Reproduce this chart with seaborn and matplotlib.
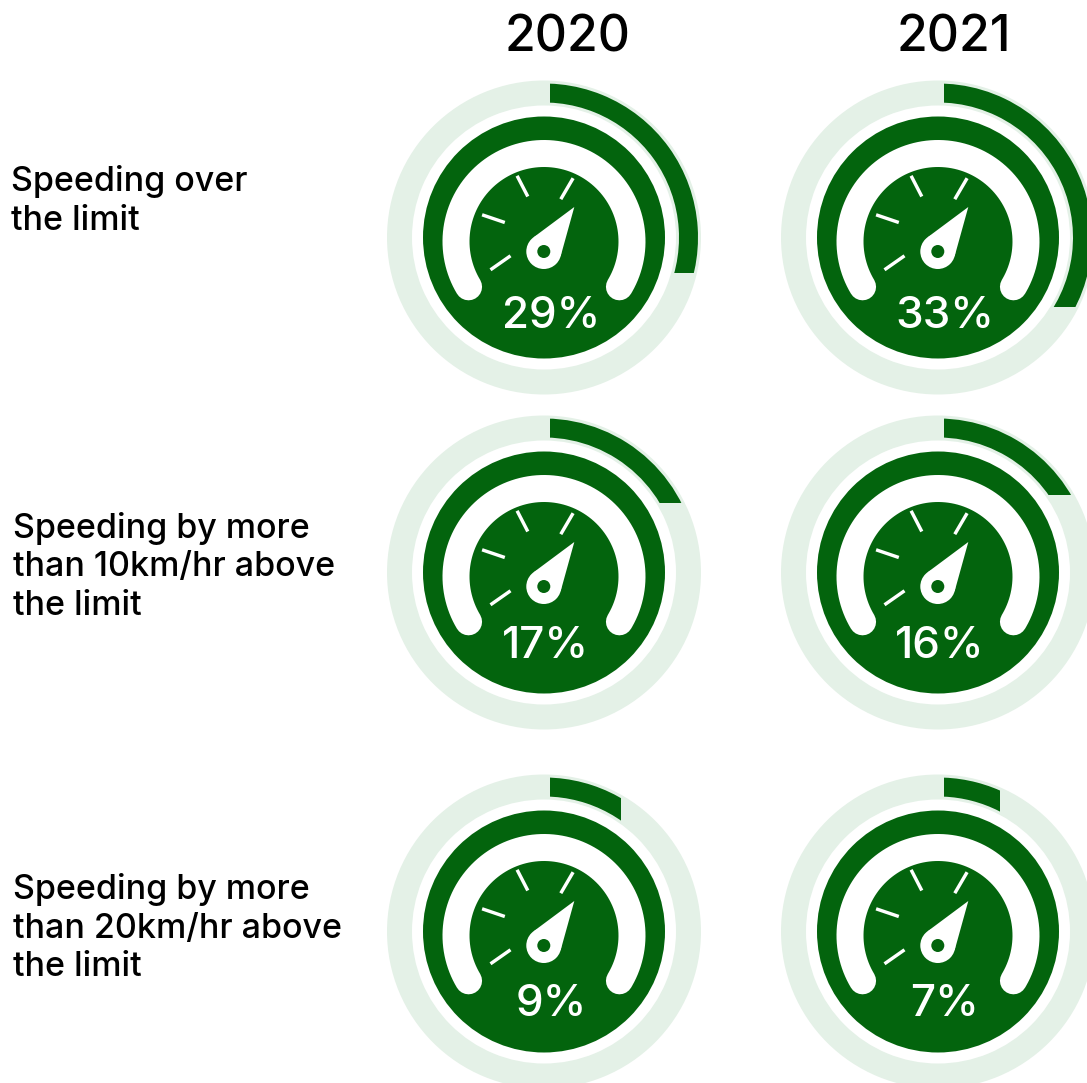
import numpy as np
import matplotlib
matplotlib.use("Agg")
import matplotlib.pyplot as plt
from matplotlib.patches import Wedge, Circle, Polygon, Rectangle
import seaborn as sns

# Share of drivers speeding, by behaviour and year
years = ["2020", "2021"]
behaviours = [
    "Speeding over\nthe limit",
    "Speeding by more\nthan 10km/hr above\nthe limit",
    "Speeding by more\nthan 20km/hr above\nthe limit",
]
share_2020 = [29, 17, 9]
share_2021 = [33, 16, 7]

# Layout in pixel units of the 1087x1083 canvas
col_x = [544, 938]
row_y = [237.5, 572.5, 931.5]
year_x = [568, 954]
value_text_x = [[551, 945], [545, 940], [551, 945]]
value_text_y = [316, 647, 1005]
label_x = [11, 13, 13]
label_y = [201, 567, 928]

DARK = "#03640D"
LIGHT = "#E4F1E7"
sns.set_theme(style="white")
plt.rcParams["font.family"] = ["Inter", "DejaVu Sans"]

PX = 0.72  # points per pixel at 100 dpi

fig = plt.figure(figsize=(10.87, 10.83), dpi=100, facecolor="white")
ax = fig.add_axes([0, 0, 1, 1])
ax.set_xlim(0, 1087)
ax.set_ylim(1083, 0)  # y grows downward, so angles run clockwise on screen
ax.set_aspect("equal")
ax.axis("off")


def draw_progress(cx, cy, value):
    """Light track plus a dark arc for `value` percent, starting at twelve o'clock."""
    ax.add_patch(Wedge((cx, cy), 157, 0, 360, width=25, fc=LIGHT, ec="none"))
    sweep = value * 3.6
    mid = 144.5
    theta = np.radians(sweep)
    arc = Wedge((cx, cy), 154, -100, -90 + sweep + 14, width=19, fc=DARK, ec="none")
    ax.add_patch(arc)
    # The arc ends are cut square to the page rather than radially
    if sweep < 45:
        clip = Rectangle((cx + 6, cy - 200), mid * np.sin(theta) - 6, 400, transform=ax.transData)
    else:
        cut = cy - mid * np.cos(theta)
        clip = Rectangle((cx + 6, cy - 200), 200, cut - (cy - 200), transform=ax.transData)
    arc.set_clip_path(clip)


def draw_dial(cx, cy):
    """Speedometer icon: disc, white scale band, tick marks and needle."""
    ax.add_patch(Circle((cx, cy), 121, fc=DARK, ec="none"))
    angles = np.radians(np.linspace(149, 391, 200))
    ax.plot(cx + 88 * np.cos(angles), cy + 4 + 88 * np.sin(angles), color="white",
            lw=27 * PX, solid_capstyle="round")

    hx, hy = cx - 0.2, cy + 14
    ticks = [
        ((-53.3, 18.3), (-33.3, 4.3)),
        ((-61.7, -36.7), (-39.0, -29.0)),
        ((-26.7, -75.7), (-16.0, -55.0)),
        ((29.3, -73.3), (17.0, -52.3)),
    ]
    for (x0, y0), (x1, y1) in ticks:
        ax.plot([hx + x0, hx + x1], [hy + y0, hy + y1], color="white",
                lw=3.4 * PX, solid_capstyle="butt")

    tip = np.array([30.5, -44.5])
    r = 17.5
    d = np.hypot(*tip)
    base = np.arctan2(tip[1], tip[0])
    spread = np.arccos(r / d)
    a, b = base + spread, base - spread
    ax.add_patch(Polygon([(hx + tip[0], hy + tip[1]),
                          (hx + r * np.cos(a), hy + r * np.sin(a)),
                          (hx + r * np.cos(b), hy + r * np.sin(b))],
                         closed=True, fc="white", ec="none"))
    ax.add_patch(Circle((hx, hy), r, fc="white", ec="none"))
    ax.add_patch(Circle((hx, hy), 6.5, fc=DARK, ec="none"))


for c, (year, shares) in enumerate(zip(years, [share_2020, share_2021])):
    ax.text(year_x[c], 38, year, ha="center", va="center",
            fontsize=50 * PX, color="black", fontweight="medium")
    for r, value in enumerate(shares):
        draw_progress(col_x[c], row_y[r], value)
        draw_dial(col_x[c], row_y[r])
        ax.text(value_text_x[r][c], value_text_y[r], f"{value}%", ha="center", va="center",
                fontsize=44 * PX, color="white", fontweight="medium")

for text, x, y in zip(behaviours, label_x, label_y):
    ax.text(x, y, text, ha="left", va="center", fontsize=34 * PX, color="black",
            fontweight="medium", linespacing=1.27)

fig.savefig("out.png", dpi=100, facecolor="white")
